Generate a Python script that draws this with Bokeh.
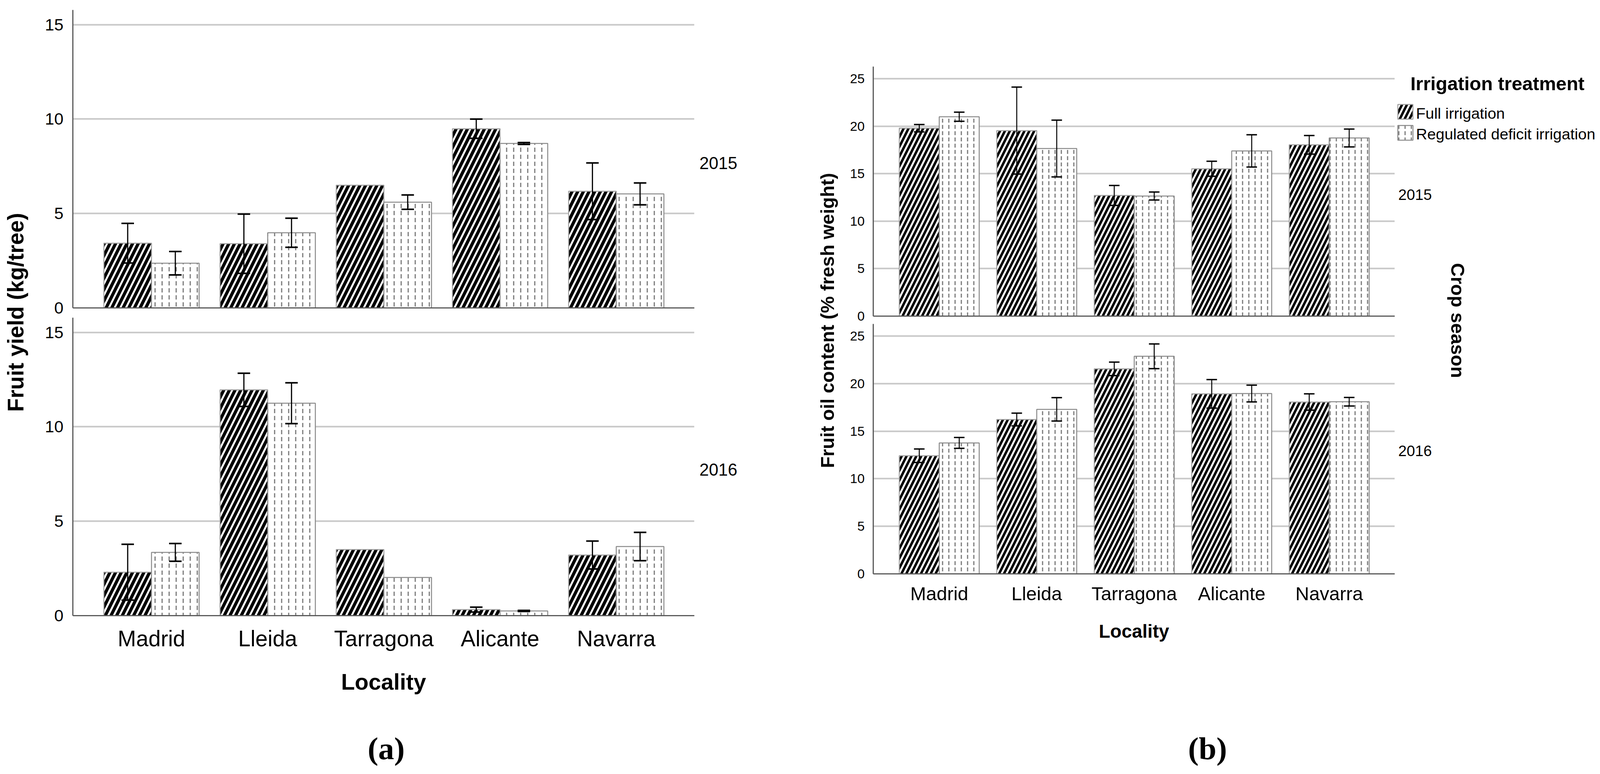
import numpy as np
from bokeh.plotting import figure
from bokeh.models import Range1d, FixedTicker, ColumnDataSource, Whisker, TeeHead, Label
from bokeh.layouts import row, column
from bokeh.embed import file_html
from bokeh.resources import INLINE

# ---------------- data ----------------
localities = ["Madrid", "Lleida", "Tarragona", "Alicante", "Navarra"]
treatments = ["Full irrigation", "Regulated deficit irrigation"]
seasons = ["2015", "2016"]

# (a) Fruit yield (kg/tree): means and error-bar half lengths (None = no bar)
yield_2015_full = [3.43, 3.40, 6.50, 9.49, 6.18]
yield_2015_full_err = [1.05, 1.57, None, 0.51, 1.50]
yield_2015_rdi = [2.37, 3.98, 5.60, 8.71, 6.04]
yield_2015_rdi_err = [0.62, 0.77, 0.38, 0.05, 0.58]
yield_2016_full = [2.30, 11.96, 3.50, 0.32, 3.21]
yield_2016_full_err = [1.48, 0.88, None, 0.13, 0.74]
yield_2016_rdi = [3.35, 11.25, 2.02, 0.25, 3.66]
yield_2016_rdi_err = [0.47, 1.08, None, 0.03, 0.75]

# (b) Fruit oil content (% fresh weight)
oil_2015_full = [19.79, 19.54, 12.71, 15.52, 18.04]
oil_2015_full_err = [0.39, 4.58, 1.05, 0.79, 0.98]
oil_2015_rdi = [21.00, 17.65, 12.65, 17.40, 18.76]
oil_2015_rdi_err = [0.48, 2.99, 0.42, 1.70, 0.94]
oil_2016_full = [12.42, 16.23, 21.56, 18.93, 18.07]
oil_2016_full_err = [0.71, 0.67, 0.71, 1.50, 0.86]
oil_2016_rdi = [13.77, 17.30, 22.88, 18.96, 18.10]
oil_2016_rdi_err = [0.57, 1.23, 1.30, 0.88, 0.45]

yield_ticks = [0, 5, 10, 15]
oil_ticks = [0, 5, 10, 15, 20, 25]
yield_max = 15.78
oil_max = 26.28

# ---------------- style / geometry ----------------
K = 4126 / 4096          # picture px per page px


def c(v):
    return int(round(v / K))


def fs(px):
    return f"{px / K:.1f}px"


FONT = "Liberation Sans"
SERIF = "Liberation Serif, Times New Roman, serif"
X_START, X_END = -0.677, 4.672
BAR_W = 0.41
OFF = 0.205
GRID_COLOR = "#c8c8c8"
AXIS_COLOR = "#5a5a5a"
BOTTOM = 1980
RIGHT = 4124


def full_style(scale):
    return dict(fill_color="black", line_color="#a0a0a0", line_width=2.5,
                hatch_pattern="/", hatch_color="white", hatch_weight=5, hatch_scale=scale)


def rdi_style(scale):
    return dict(fill_color="white", line_color="#8a8a8a", line_width=2.5,
                hatch_pattern=":", hatch_color="#7a7a7a", hatch_weight=3, hatch_scale=scale)


def add_err(p, xs, vals, errs, cap, lw):
    b, u, l = [], [], []
    for x, v, e in zip(xs, vals, errs):
        if e is None:
            continue
        b.append(float(x)); u.append(v + e); l.append(v - e)
    src = ColumnDataSource(dict(base=b, upper=u, lower=l))
    w = Whisker(source=src, base="base", upper="upper", lower="lower",
                line_color="black", line_width=lw,
                upper_head=TeeHead(size=cap, line_width=lw + 1, line_color="black"),
                lower_head=TeeHead(size=cap, line_width=lw + 1, line_color="black"))
    w.level = "annotation"
    p.add_layout(w)


def panel(full, full_err, rdi, rdi_err, y_end, yticks, box, frame, g, bottom):
    x0, x1, y0, y1 = box
    fx0, fx1, fy0, fy1 = frame
    p = figure(width=c(x1) - c(x0), height=c(y1) - c(y0),
               x_range=Range1d(X_START, X_END), y_range=Range1d(0, y_end),
               toolbar_location=None, output_backend="svg",
               min_border_left=c(fx0) - c(x0), min_border_right=c(x1) - c(fx1),
               min_border_top=c(fy0) - c(y0), min_border_bottom=c(y1) - c(fy1))
    p.outline_line_color = None
    p.background_fill_color = "white"
    p.border_fill_color = "white"
    idx = np.arange(len(localities))
    xf = idx - OFF
    xr = idx + OFF
    p.vbar(x=xf, top=full, bottom=0, width=BAR_W, **full_style(g["hs"]))
    p.vbar(x=xr, top=rdi, bottom=0, width=BAR_W, **rdi_style(g["ds"]))
    add_err(p, xf, full, full_err, g["cap"], g["elw"])
    add_err(p, xr, rdi, rdi_err, g["cap"], g["elw"])

    p.xgrid.visible = False
    p.ygrid.ticker = FixedTicker(ticks=yticks)
    p.ygrid.grid_line_color = GRID_COLOR
    p.ygrid.grid_line_width = 4

    for ax in p.axis:
        ax.axis_line_color = AXIS_COLOR
        ax.axis_line_width = 3
        ax.major_tick_line_color = None
        ax.minor_tick_line_color = None
        ax.major_tick_out = 0
        ax.major_tick_in = 0
        ax.major_label_text_font = FONT
        ax.major_label_text_color = "black"
        ax.axis_label_text_font = FONT
        ax.axis_label_text_color = "black"

    p.yaxis.ticker = FixedTicker(ticks=yticks)
    p.yaxis.major_label_text_font_size = fs(g["ytick"])
    p.yaxis.major_label_standoff = c(g["ystand"])

    if bottom:
        p.xaxis.ticker = FixedTicker(ticks=list(range(len(localities))))
        p.xaxis.major_label_overrides = {i: n for i, n in enumerate(localities)}
        p.xaxis.major_label_text_font_size = fs(g["xtick"])
        p.xaxis.major_label_standoff = c(g["xstand"])
        p.xaxis.axis_label = "Locality"
        p.xaxis.axis_label_text_font_size = fs(g["xlab"])
        p.xaxis.axis_label_text_font_style = "bold"
        p.xaxis.axis_label_standoff = c(g["xlabstand"])
    else:
        p.xaxis.ticker = FixedTicker(ticks=[])
        p.xaxis.major_label_text_font_size = "0px"
        p.xaxis.major_label_standoff = 0
    return p


def pixfig(x0, x1, y0, y1):
    f = figure(width=c(x1) - c(x0), height=c(y1) - c(y0), x_range=Range1d(x0, x1),
               y_range=Range1d(-y1, -y0), min_border=0,
               toolbar_location=None, output_backend="svg",
               x_axis_type=None, y_axis_type=None)
    f.outline_line_color = None
    f.background_fill_color = "white"
    f.border_fill_color = "white"
    return f


def label(f, x, y, text, size, align="left", bold=False, angle=0.0, font=FONT):
    f.add_layout(Label(x=x, y=-y, text=text, angle=angle, text_align=align,
                       text_baseline="middle", text_font=font, text_font_size=fs(size),
                       text_font_style="bold" if bold else "normal", text_color="black"))


GA = dict(hs=29, ds=18, cap=32, elw=3, ytick=43, ystand=24,
          xtick=57, xstand=27, xlab=58, xlabstand=44)
GB = dict(hs=25, ds=16, cap=27, elw=2.5, ytick=34, ystand=22,
          xtick=49, xstand=23, xlab=48, xlabstand=40)

# ---------------- panel (a) ----------------
a15 = panel(yield_2015_full, yield_2015_full_err, yield_2015_rdi, yield_2015_rdi_err,
            yield_max, yield_ticks, (100, 1792, 0, 819), (187, 1790, 25, 794), GA, False)
a16 = panel(yield_2016_full, yield_2016_full_err, yield_2016_rdi, yield_2016_rdi_err,
            yield_max, yield_ticks, (100, 1792, 819, 1880), (187, 1790, 819, 1588), GA, True)
capA = pixfig(100, 1792, 1880, BOTTOM)
label(capA, 953, 1930, "(a)", 82, align="center", bold=True, font=SERIF)

labA = pixfig(0, 100, 0, BOTTOM)
label(labA, 40, 805, "Fruit yield (kg/tree)", 57, align="center", bold=True, angle=np.pi / 2)

mid = pixfig(1792, 2180, 0, BOTTOM)
label(mid, 1803, 420, seasons[0], 44)
label(mid, 1803, 1211, seasons[1], 44)
label(mid, 2133, 826, "Fruit oil content (% fresh weight)", 49, align="center", bold=True,
      angle=np.pi / 2)

# ---------------- panel (b) ----------------
b15 = panel(oil_2015_full, oil_2015_full_err, oil_2015_rdi, oil_2015_rdi_err,
            oil_max, oil_ticks, (2180, 3598, 0, 835), (2251, 3596, 171, 815), GB, False)
b16 = panel(oil_2016_full, oil_2016_full_err, oil_2016_rdi, oil_2016_rdi_err,
            oil_max, oil_ticks, (2180, 3598, 835, 1880), (2251, 3596, 835, 1480), GB, True)
capB = pixfig(2180, 3598, 1880, BOTTOM)
label(capB, 3089, 1930, "(b)", 82, align="center", bold=True, font=SERIF)

right = pixfig(3598, RIGHT, 0, BOTTOM)
label(right, 3605, 502, seasons[0], 39)
label(right, 3605, 1162, seasons[1], 39)
label(right, 3759, 826, "Crop season", 49, align="center", bold=True, angle=-np.pi / 2)
# legend
label(right, 3861, 215, "Irrigation treatment", 49, align="center", bold=True)
right.quad(left=[3604], right=[3643], top=[-269], bottom=[-307], **full_style(25))
right.quad(left=[3604], right=[3643], top=[-323], bottom=[-361], **rdi_style(16))
label(right, 3651, 292, treatments[0], 40)
label(right, 3651, 345, treatments[1], 40)

layout = row(labA, column(a15, a16, capA), mid, column(b15, b16, capB), right)

open("out.html", "w").write(file_html(layout, INLINE))
